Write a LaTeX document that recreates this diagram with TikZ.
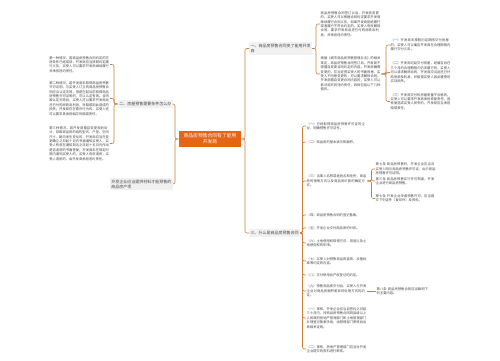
\documentclass[tikz,border=0pt]{standalone}
\usepackage{fontspec}
\setmainfont{Noto Sans CJK SC}
\XeTeXlinebreaklocale "zh"
\XeTeXlinebreakskip = 0pt plus 0.5pt
\definecolor{lineC}{RGB}{205,125,55}
\definecolor{centerC}{RGB}{230,100,20}
\definecolor{boxC}{RGB}{241,241,241}
\definecolor{txtC}{RGB}{70,70,70}
\tikzset{
 conn/.style={draw=lineC, line width=0.6pt, rounded corners=2pt},
 para/.style={text width=60pt, align=left, font=\fontsize{3.3}{4.4}\selectfont, text=txtC, inner sep=0.5pt},
 branch/.style={fill=boxC, align=left, font=\fontsize{4}{5}\selectfont, text=txtC, inner xsep=1.5pt, inner ysep=1.8pt},
 centerbox/.style={fill=centerC, align=center, font=\fontsize{4.8}{6.2}\selectfont, text=white, inner xsep=5pt, inner ysep=3pt},
}
\begin{document}
\begin{tikzpicture}[x=1pt,y=-1pt]
\fill[white] (0,0) rectangle (500,360);
\useasboundingbox (0,0) rectangle (500,360);
% centre
\node[centerbox] (C) at (210,139) {商品房预售合同有了能用\\开发商};
% branches
\node[branch, anchor=west] (B1) at (249,48.5) {一、商品房预售合同变了能用开发\\商};
\node[branch, anchor=east] (B2) at (173,104) {二、房屋预售需要条件怎么办};
\node[branch, anchor=east] (LL) at (173,184) {开发企业应当提供材料才能预售的\\商品房产项};
\node[branch, anchor=west] (B3) at (249,233) {三、什么是商品房预售合同};
% trunk coordinates
\coordinate (tl) at (175,0);
\coordinate (tr) at (245,0);
\coordinate (b1) at (316,0);
\coordinate (b2) at (114,0);
\coordinate (b3) at (302.5,0);
\coordinate (bm) at (386,0);
\coordinate (bc) at (371.5,0);
\draw[conn] (C.west) -- (C.west -| tl) |- (B2.east);
\draw[conn] (C.west) -- (C.west -| tl) |- (LL.east);
\draw[conn] (C.east) -- (C.east -| tr) |- (B1.west);
\draw[conn] (C.east) -- (C.east -| tr) |- (B3.west);
% left paragraphs
\node[para, anchor=east] (L1) at (110,64.5) {第一种情况，若商品房预售合同约定的交房条件已经成就，开发商应当按照约定履行义务，买受人可以要求开发商继续履行并承担违约责任。};
\node[para, anchor=east] (L2) at (110,98.5) {第二种情况，若开发商未取得商品房预售许可证明，与买受人订立的商品房预售合同应当认定无效，但是在起诉前取得商品房预售许可证明的，可以认定有效。合同被认定无效后，买受人可以要求开发商返还已付购房款及利息，并赔偿因此造成的损失；开发商存在欺诈行为的，买受人还可以要求其承担相应的赔偿责任。};
\node[para, anchor=east] (L3) at (110,143.5) {第三种情况，若开发商擅自变更规划设计，导致商品房的结构型式、户型、空间尺寸、朝向发生变化的，开发商应当在变更确立之日起十日内书面通知买受人，买受人有权在通知到达之日起十五日内作出是否退房的书面答复；开发商未在规定时限内通知买受人的，买受人有权退房；买受人退房的，由开发商承担违约责任。};
\foreach \n in {L1,L2,L3} \draw[conn] (B2.west) -- (B2.west -| b2) |- (\n.east);
% branch 1 children
\node[para, anchor=west] (T) at (320,24) {商品房预售合同签订以后，开发商变更的，买受人可以根据合同约定要求开发商继续履行合同义务，如果开发商拒绝履行或者履行不符合约定的，买受人有权解除合同，要求开发商返还已付购房款及利息，并承担违约责任。};
\node[para, anchor=west] (M) at (320,74) {根据《城市商品房预售管理办法》的相关规定，商品房预售合同签订后，开发商不得擅自变更合同约定的内容。开发商确需变更的，应当征得买受人的书面同意，买受人不同意变更的，可以要求解除合同。开发商擅自变更合同内容的，买受人可以依法追究其违约责任，具体包括以下几种情形。};
\foreach \n in {T,M} \draw[conn] (B1.east) -- (B1.east -| b1) |- (\n.west);
\node[para, anchor=west] (R1) at (390,45) {（一）开发商未按照约定期限交付房屋的，买受人可以催告开发商在合理期限内履行交付义务。};
\node[para, anchor=west] (R2) at (390,72.5) {（二）开发商迟延交付房屋，经催告后在三个月的合理期限内仍未履行的，买受人可以请求解除合同，开发商应当返还已付购房款及利息，并赔偿买受人因此遭受的实际损失。};
\node[para, anchor=west] (R3) at (390,101.5) {（三）开发商交付的房屋质量不合格的，买受人可以要求开发商承担修复责任，因修复造成买受人损失的，开发商应当承担赔偿责任。};
\foreach \n in {R1,R2,R3} \draw[conn] (M.east) -- (M.east -| bm) |- (\n.west);
% branch 3 children
\node[para, anchor=west] (A) at (306,126) {（一）已经取得商品房预售许可证的企业，明确预售许可证号。};
\node[para, anchor=west] (B) at (306,142) {（二）商品房的基本状况和面积。};
\node[para, anchor=west] (Cx) at (306,181) {（三）当事人名称或者姓名和住所，商品房的销售方式以及商品房价款的确定方式。};
\node[para, anchor=west] (D) at (306,215) {（四）商品房预售合同的登记备案。};
\node[para, anchor=west] (E) at (306,228) {（五）开发企业交付商品房的时间。};
\node[para, anchor=west] (F) at (306,243) {（六）土地使用权取得方式、用途以及土地使用权的年限。};
\node[para, anchor=west] (G) at (306,261) {（七）买受人对预售商品房装饰、设备标准等约定的内容。};
\node[para, anchor=west] (H) at (306,275) {（八）交付使用后产权登记的约定。};
\node[para, anchor=west] (I) at (306,291) {（九）预售商品房交付后，买受人与开发企业对商品房面积差异的处理方式的约定。};
\node[para, anchor=west] (J) at (306,318) {（一）审核，开发企业应当自签约之日起三十日内，持商品房预售合同到县级以上人民政府房地产管理部门和土地管理部门办理登记备案手续，由管理部门审核后出具相关证明。};
\node[para, anchor=west] (K) at (306,349) {（二）审核，房地产管理部门应当对开发企业提交的资料进行审核。};
\foreach \n in {A,B,Cx,D,E,F,G,H,I,J,K} \draw[conn] (B3.east) -- (B3.east -| b3) |- (\n.west);
\node[para, anchor=west] (Ca) at (375,169) {第七条 商品房预售时，开发企业应当向买受人明示商品房预售许可证，出示商品房预售许可证明。};
\node[para, anchor=west] (Cb) at (375,181) {第三条 商品房预售实行许可制度，开发企业进行商品房预售。};
\node[para, anchor=west] (Cc) at (375,198.5) {第七条 开发企业申请预售许可，应当提交下列证件（复印件）及资料。};
\foreach \n in {Ca,Cb,Cc} \draw[conn] (Cx.east) -- (Cx.east -| bc) |- (\n.west);
\node[para, anchor=west, text width=52pt] (I8) at (376,291) {第八条 商品房预售合同应当载明下列主要内容。};
\draw[conn] (I.east) -- (I8.west);
\end{tikzpicture}
\end{document}
